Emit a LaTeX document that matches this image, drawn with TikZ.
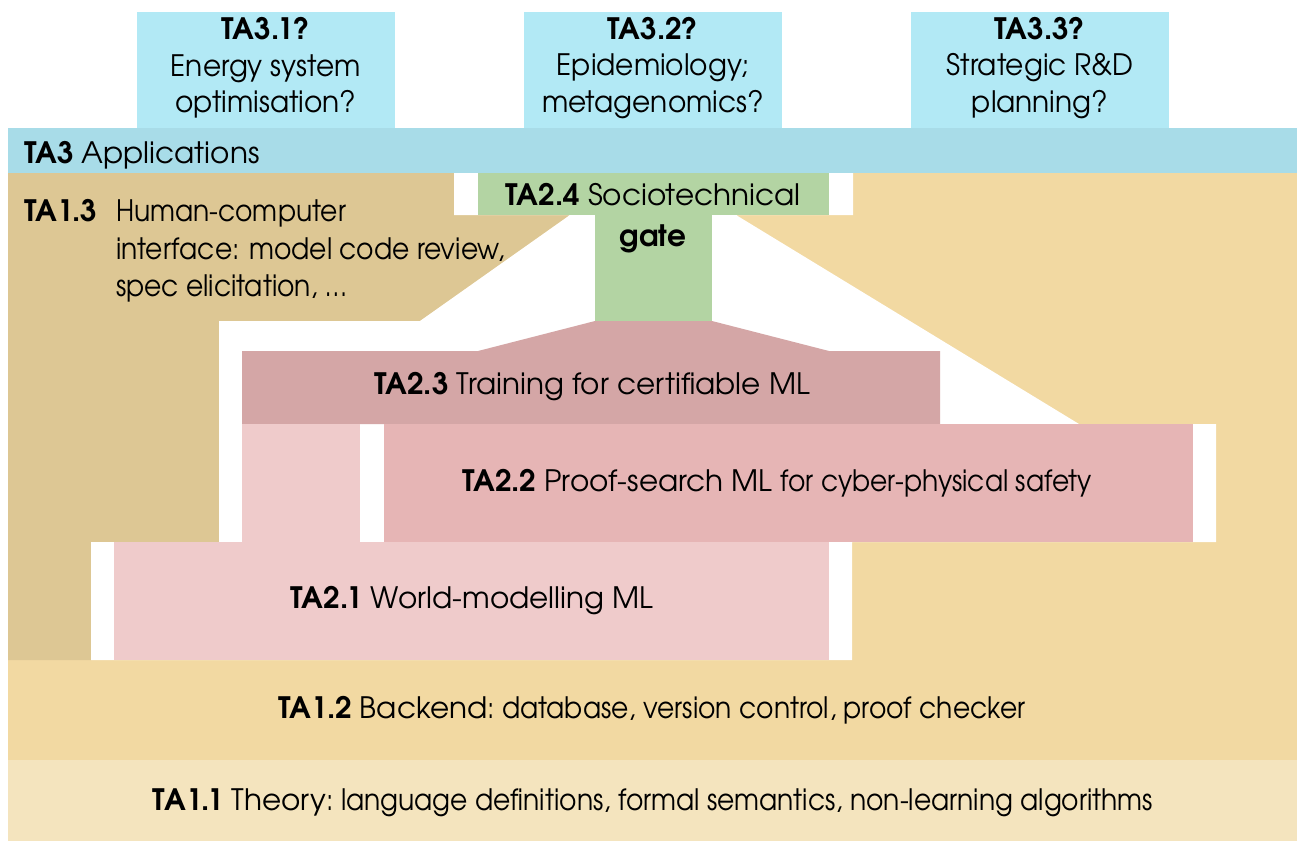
\documentclass[tikz,border=0pt]{standalone}
\usepackage{fontspec}
\setmainfont{TeX Gyre Adventor}
\newfontfamily\lightf{TeX Gyre Adventor}[FakeStretch=0.9]
\newfontfamily\boxf{TeX Gyre Adventor}[FakeStretch=0.95]
\definecolor{cyanbox}{HTML}{B2E9F5}
\definecolor{tabar}{HTML}{A8DCE8}
\definecolor{tathirteen}{HTML}{DDC794}
\definecolor{tatwelve}{HTML}{F2D9A2}
\definecolor{taeleven}{HTML}{F4E4BE}
\definecolor{gategreen}{HTML}{B3D4A3}
\definecolor{tatwothree}{HTML}{D4A6A6}
\definecolor{tatwotwo}{HTML}{E6B5B5}
\definecolor{tatwoone}{HTML}{EFCBCB}
\newcommand\myfs{\fontsize{29.5}{35}\selectfont}
\begin{document}
\begin{tikzpicture}[x=1pt,y=-1pt,
  lbl/.style={inner sep=0pt, outer sep=0pt, font=\myfs, text=black},
  lblc/.style={lbl, align=center}]
\useasboundingbox (0,0) rectangle (1297,841);
% base layers
\fill[tatwelve] (8,173) rectangle (1297,760);
\fill[taeleven] (8,760) rectangle (1297,841);
\fill[tabar] (8,128) rectangle (1297,173);
\fill[cyanbox] (137,12) rectangle (395,128);
\fill[cyanbox] (524,12) rectangle (782,128);
\fill[cyanbox] (911,12) rectangle (1169,128);
% TA1.3
\fill[tathirteen] (8,173) -- (454,173) -- (454,215) -- (570,215) -- (420,321) -- (219,321) -- (219,542) -- (91,542) -- (91,660) -- (8,660) -- cycle;
% white halo
\fill[white] (219,542) -- (219,321) -- (420,321) -- (570,215) -- (454,215) -- (454,173) -- (853,173) -- (853,215) -- (736,215) -- (1079,424) -- (1216,424) -- (1216,542) -- (852,542) -- (852,660) -- (91,660) -- (91,542) -- cycle;
% TA2 blocks
\fill[tatwothree] (242,424) -- (242,351) -- (478,351) -- (595,321) -- (712,321) -- (829,351) -- (940,351) -- (940,424) -- cycle;
\fill[gategreen] (478,173) rectangle (829,215);
\fill[gategreen] (595,215) rectangle (712,321);
\fill[tatwotwo] (384,424) rectangle (1193,542);
\fill[tatwoone] (114,542) rectangle (829,660);
\fill[tatwoone] (242,424) rectangle (360,542);
% texts
\node[lblc, font=\fontsize{29.5}{36.5}\selectfont] (t31) at (266,68) {\textbf{TA3.1?}\\{\boxf Energy system}\\{\boxf optimisation?}};
\node[lblc, font=\fontsize{29.5}{36.5}\selectfont] (t32) at (653,68) {\textbf{TA3.2?}\\{\boxf Epidemiology;}\\{\boxf metagenomics?}};
\node[lblc, font=\fontsize{29.5}{36.5}\selectfont] (t33) at (1040,68) {\textbf{TA3.3?}\\{\boxf Strategic R\&D}\\{\boxf planning?}};
\node[lbl, anchor=west] (t3) at (24,155) {\textbf{TA3} Applications};
\node[lbl, anchor=north west] (t13) at (24,196) {\def\arraystretch{1.06}\begin{tabular}{@{}p{92pt}@{}l@{}}\textbf{TA1.3} & {\lightf Human-computer}\\ & {\lightf interface: model code review,}\\ & {\lightf spec elicitation, \dots}\end{tabular}};
\node[lbl, align=center] (t24) at (653,218) {\textbf{TA2.4} Sociotechnical\\[6pt]\textbf{gate}};
\node[lbl] (t23) at (592,387) {\textbf{TA2.3} Training for certifiable ML};
\node[lbl] (t22) at (777,483) {\textbf{TA2.2} Proof-search ML {\lightf for cyber-physical safety}};
\node[lbl] (t21) at (472,601) {\textbf{TA2.1} World-modelling ML};
\node[lbl] (t12) at (652,710) {\textbf{TA1.2} Backend{\lightf :\ database, version control, proof checker}};
\node[lbl] (t11) at (653,803) {\textbf{TA1.1} Theory{\lightf :\ language definitions, formal semantics, non-learning algorithms}};
\end{tikzpicture}
\end{document}
